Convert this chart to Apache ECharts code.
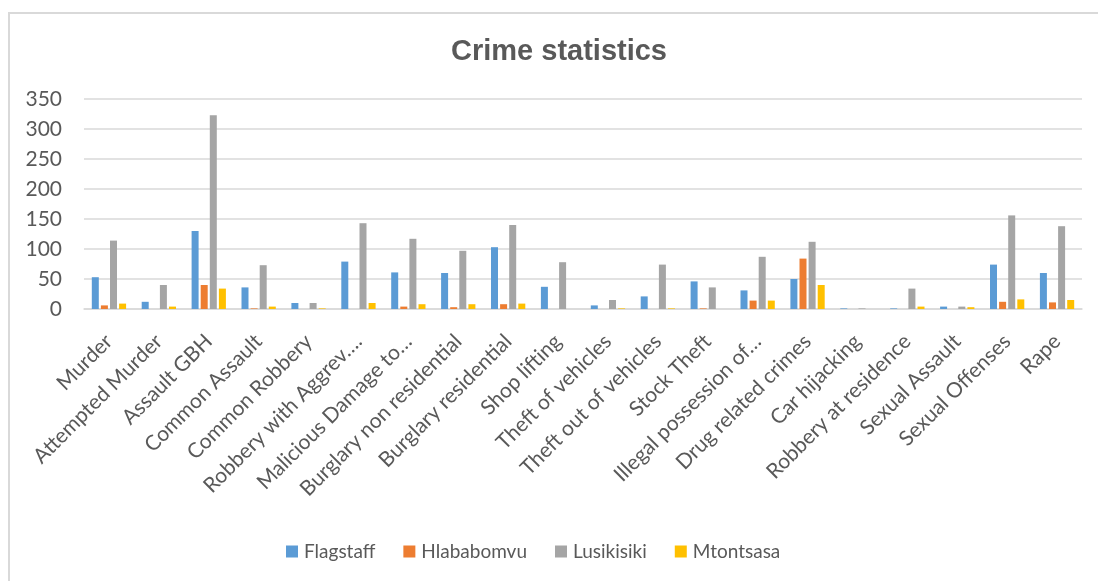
<!DOCTYPE html>
<html>
<head>
<meta charset="utf-8">
<title>Crime statistics</title>
<script src="https://cdn.jsdelivr.net/npm/echarts@6/dist/echarts.min.js"></script>
<style>
  html, body { margin: 0; padding: 0; background: #ffffff; }
  #chart { position: absolute; left: 0; top: 0; width: 1098px; height: 581px; }
  #frame { position: absolute; left: 8px; top: 12px; right: 0; bottom: 0;
           border-left: 2px solid #d9d9d9; border-top: 2px solid #d9d9d9; pointer-events: none; }
</style>
</head>
<body>
<div id="chart"></div>
<div id="frame"></div>
<script>
// Crime categories shown along the x axis
const categories = [
  'Murder', 'Attempted Murder', 'Assault GBH', 'Common Assault', 'Common Robbery',
  'Robbery with Aggrev….', 'Malicious Damage to…', 'Burglary non residential',
  'Burglary residential', 'Shop lifting', 'Theft of vehicles', 'Theft out of vehicles',
  'Stock Theft', 'Illegal possession of…', 'Drug related crimes', 'Car hijacking',
  'Robbery at residence', 'Sexual Assault', 'Sexual Offenses', 'Rape'
];

// Reported cases per police station
const flagstaff  = [53, 12, 130, 36, 10, 79, 61, 60, 103, 37, 6, 21, 46, 31, 50, 1, 1, 4, 74, 60];
const hlababomvu = [6, 0, 40, 1, 0, 0, 4, 3, 8, 0, 0, 0, 1, 14, 84, 0, 0, 0, 12, 11];
const lusikisiki = [114, 40, 323, 73, 10, 143, 117, 97, 140, 78, 15, 74, 36, 87, 112, 1, 34, 4, 156, 138];
const mtontsasa  = [9, 4, 34, 4, 1, 10, 8, 8, 9, 0, 1, 1, 0, 14, 40, 0, 4, 3, 16, 15];

const yTicks = { min: 0, max: 350, interval: 50 };

const seriesDefs = [
  { name: 'Flagstaff',  data: flagstaff,  color: '#5B9BD5' },
  { name: 'Hlababomvu', data: hlababomvu, color: '#ED7D31' },
  { name: 'Lusikisiki', data: lusikisiki, color: '#A5A5A5' },
  { name: 'Mtontsasa',  data: mtontsasa,  color: '#FFC000' }
];

const textColor = '#595959';
const font = 'Lato, "Open Sans", sans-serif';

const chart = echarts.init(document.getElementById('chart'), null, { renderer: 'canvas' });
chart.setOption({
  animation: false,
  backgroundColor: '#ffffff',
  title: {
    text: 'Crime statistics',
    left: 446,
    top: 32,
    textStyle: { fontFamily: '"Liberation Sans", Arial, sans-serif', fontWeight: 'bold', fontSize: 29, color: textColor }
  },
  legend: {
    left: 281,
    top: 537,
    itemWidth: 12,
    itemHeight: 12,
    itemGap: 28,
    icon: 'rect',
    textStyle: { fontFamily: font, fontSize: 19, color: textColor, padding: [0, 0, 0, 1] },
    data: seriesDefs.map(s => s.name)
  },
  grid: { left: 84, right: 16, top: 99, bottom: 272, containLabel: false },
  xAxis: {
    type: 'category',
    data: categories,
    axisLine: { lineStyle: { color: '#d9d9d9', width: 1.5 } },
    axisTick: { show: false },
    axisLabel: {
      interval: 0,
      rotate: 45,
      margin: 29,
      fontFamily: font,
      fontSize: 21,
      color: textColor
    }
  },
  yAxis: {
    type: 'value',
    min: yTicks.min,
    max: yTicks.max,
    interval: yTicks.interval,
    axisLine: { show: false },
    axisTick: { show: false },
    splitLine: { lineStyle: { color: '#d9d9d9', width: 1.5 } },
    axisLabel: { margin: 22, fontFamily: font, fontSize: 21, color: textColor }
  },
  series: seriesDefs.map(s => ({
    name: s.name,
    type: 'bar',
    data: s.data,
    barWidth: 7,
    barGap: '30%',
    itemStyle: { color: s.color }
  }))
});
</script>
</body>
</html>
